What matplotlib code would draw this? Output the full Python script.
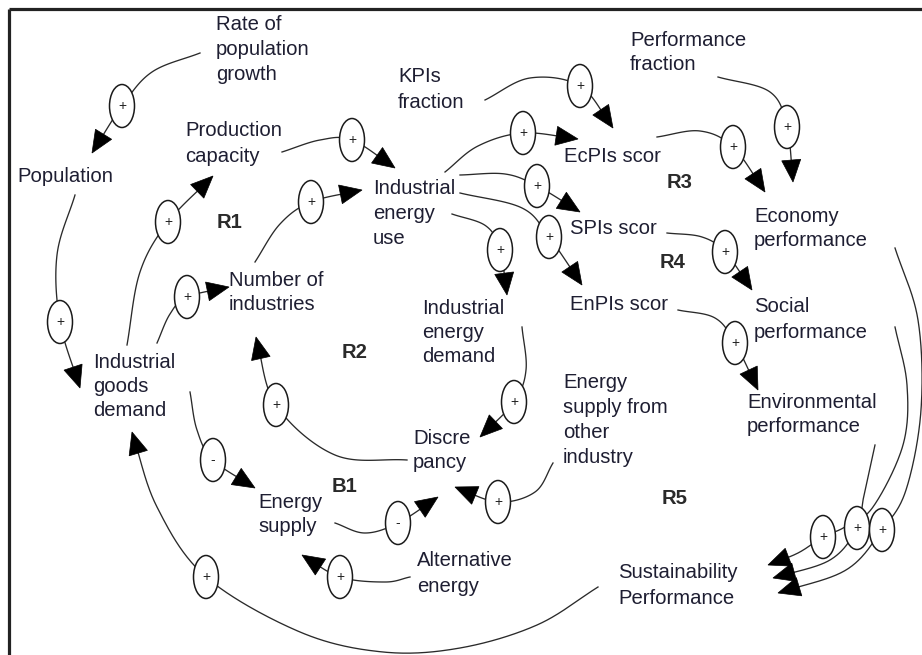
import numpy as np
import matplotlib
matplotlib.use("Agg")
import matplotlib.pyplot as plt
from matplotlib.patches import Ellipse, Polygon

# ---------------- content ----------------
NODE_LABELS = [
    "Rate of\npopulation\ngrowth",
    "Population",
    "Production\ncapacity",
    "Industrial\nenergy\nuse",
    "Number of\nindustries",
    "KPIs\nfraction",
    "Performance\nfraction",
    "EcPIs scor",
    "SPIs scor",
    "EnPIs scor",
    "Economy\nperformance",
    "Social\nperformance",
    "Environmental\nperformance",
    "Industrial\nenergy\ndemand",
    "Industrial\ngoods\ndemand",
    "Discre\npancy",
    "Energy\nsupply",
    "Energy\nsupply from\nother\nindustry",
    "Alternative\nenergy",
    "Sustainability\nPerformance",
]

LOOP_LABELS = ["R1", "R2", "R3", "R4", "R5", "B1"]

# polarity of each causal link (same order as LINK_PATHS)
LINK_SIGNS = ["+", "+", "+", "+", "+", "+", "+", "+", "+", "+",
              "+", "+", "+", "+", "+", "+", "+", "-", "-", "+",
              "+", "+", "+", "+", "+"]

# ---------------- layout (pixels) ----------------
# (left x, first-line centre y, line step)
NODE_POS = [
    (216, 25, 24.5), (17, 176, 25), (185, 130, 26.5), (373, 188, 25.5),
    (229, 280, 25), (398, 77, 25), (630, 40, 24), (564, 157, 25),
    (570, 229, 25), (570, 305, 25), (754, 216, 25), (754, 307, 25),
    (747, 402, 24.5), (422, 308, 24.5), (93, 362, 24.5), (413, 439, 23),
    (258, 502, 25), (563, 382, 25.3), (417, 560, 27), (618, 572, 26),
]
LOOP_POS = [(217, 223), (342, 353), (667, 183), (660, 262), (662, 499), (332, 486)]

# waypoints for each link, and index of the waypoint holding the polarity ellipse
LINK_PATHS = [
    ([(200, 53), (152, 72), (122, 106), (92, 153)], 2),
    ([(75, 195), (57, 255), (60, 322), (80, 388)], 2),
    ([(127, 345), (140, 272), (168, 222), (213, 176)], 2),
    ([(157, 343), (170, 314), (187, 297), (229, 287)], 2),
    ([(282, 152), (320, 140), (352, 140), (395, 168)], 2),
    ([(255, 262), (280, 224), (311, 202), (362, 190)], 2),
    ([(445, 172), (478, 146), (523, 133), (578, 139)], 2),
    ([(460, 175), (505, 174), (537, 186), (580, 212)], 2),
    ([(460, 193), (522, 208), (549, 237), (582, 285)], 2),
    ([(452, 214), (486, 226), (500, 250), (507, 295)], 2),
    ([(485, 100), (530, 78), (580, 86), (613, 128)], 2),
    ([(657, 137), (700, 131), (733, 147), (765, 192)], 2),
    ([(718, 77), (770, 92), (787, 127), (793, 182)], 2),
    ([(667, 233), (702, 237), (725, 252), (752, 290)], 2),
    ([(678, 310), (715, 318), (735, 343), (758, 390)], 2),
    ([(522, 327), (526, 370), (514, 402), (480, 437)], 2),
    ([(407, 460), (335, 455), (276, 405), (256, 337)], 2),
    ([(190, 392), (197, 430), (213, 460), (255, 488)], 2),
    ([(335, 523), (365, 533), (398, 523), (438, 497)], 2),
    ([(553, 463), (535, 492), (498, 502), (455, 487)], 2),
    ([(410, 577), (385, 582), (340, 577), (302, 555)], 2),
    ([(598, 587), (537, 625), (460, 648), (383, 652), (300, 632),
      (206, 577), (157, 507), (132, 432)], 5),
    ([(895, 327), (907, 385), (903, 445), (873, 507), (845, 527),
      (823, 537), (798, 553), (768, 565)], 5),
    ([(875, 445), (864, 495), (857, 528), (830, 560), (773, 578)], 2),
    ([(895, 248), (918, 320), (921, 410), (906, 490), (882, 530),
      (846, 570), (778, 593)], 4),
]

W, H = 922, 655
TEXT_COLOR = "#1e1e32"
LINE_COLOR = "#2a2a2a"
FONT = ["Liberation Sans", "DejaVu Sans"]
FS = 14.6
ARROW_L, ARROW_W = 22, 19
ELL_W, ELL_H = 25, 43


def catmull(pts, n=40):
    P = np.array(pts, float)
    P = np.vstack([2 * P[0] - P[1], P, 2 * P[-1] - P[-2]])
    out = []
    t = np.linspace(0, 1, n, endpoint=False)[:, None]
    for i in range(1, len(P) - 2):
        p0, p1, p2, p3 = P[i - 1], P[i], P[i + 1], P[i + 2]
        out.append(0.5 * ((2 * p1) + (-p0 + p2) * t
                          + (2 * p0 - 5 * p1 + 4 * p2 - p3) * t ** 2
                          + (-p0 + 3 * p1 - 3 * p2 + p3) * t ** 3))
    out.append(P[-2][None, :])
    return np.vstack(out)


fig = plt.figure(figsize=(W / 100, H / 100), dpi=100)
ax = fig.add_axes([0, 0, 1, 1])
ax.set_xlim(0, W)
ax.set_ylim(H, 0)
ax.axis("off")

# frame (top and left edges visible)
ax.plot([8.5, W], [9, 9], color="#222222", lw=2.3, solid_capstyle="butt")
ax.plot([8.5, 8.5], [9, H], color="#222222", lw=2.3, solid_capstyle="butt")

# node labels
for label, (x, y, step) in zip(NODE_LABELS, NODE_POS):
    for k, line in enumerate(label.split("\n")):
        ax.text(x, y + k * step, line, fontsize=FS, family=FONT,
                color=TEXT_COLOR, ha="left", va="center")

# loop labels
for label, (x, y) in zip(LOOP_LABELS, LOOP_POS):
    ax.text(x, y, label, fontsize=FS, family=FONT, fontweight="bold",
            color="#2a2a2a", ha="left", va="center")

# links
for (pts, ei), sign in zip(LINK_PATHS, LINK_SIGNS):
    C = catmull(pts)
    tip = C[-1]
    d = np.hypot(*(C - tip).T)
    idx = np.where(d >= ARROW_L)[0][-1]
    u = tip - C[idx]
    u /= np.hypot(*u)
    base = tip - ARROW_L * u
    nrm = np.array([-u[1], u[0]])
    line = np.vstack([C[:idx + 1], base])
    ax.plot(line[:, 0], line[:, 1], color=LINE_COLOR, lw=0.95, zorder=2)
    ax.add_patch(Polygon([tip, base + nrm * ARROW_W / 2, base - nrm * ARROW_W / 2],
                         closed=True, facecolor="black", edgecolor="black",
                         lw=0.5, zorder=4))
    cx, cy = pts[ei]
    ax.add_patch(Ellipse((cx, cy), ELL_W, ELL_H, facecolor="white",
                         edgecolor="#1a1a1a", lw=1.1, zorder=3))
    ax.text(cx, cy, sign, fontsize=10, family=FONT, color="#222222",
            ha="center", va="center", zorder=5)

fig.savefig("out.png", dpi=100)
